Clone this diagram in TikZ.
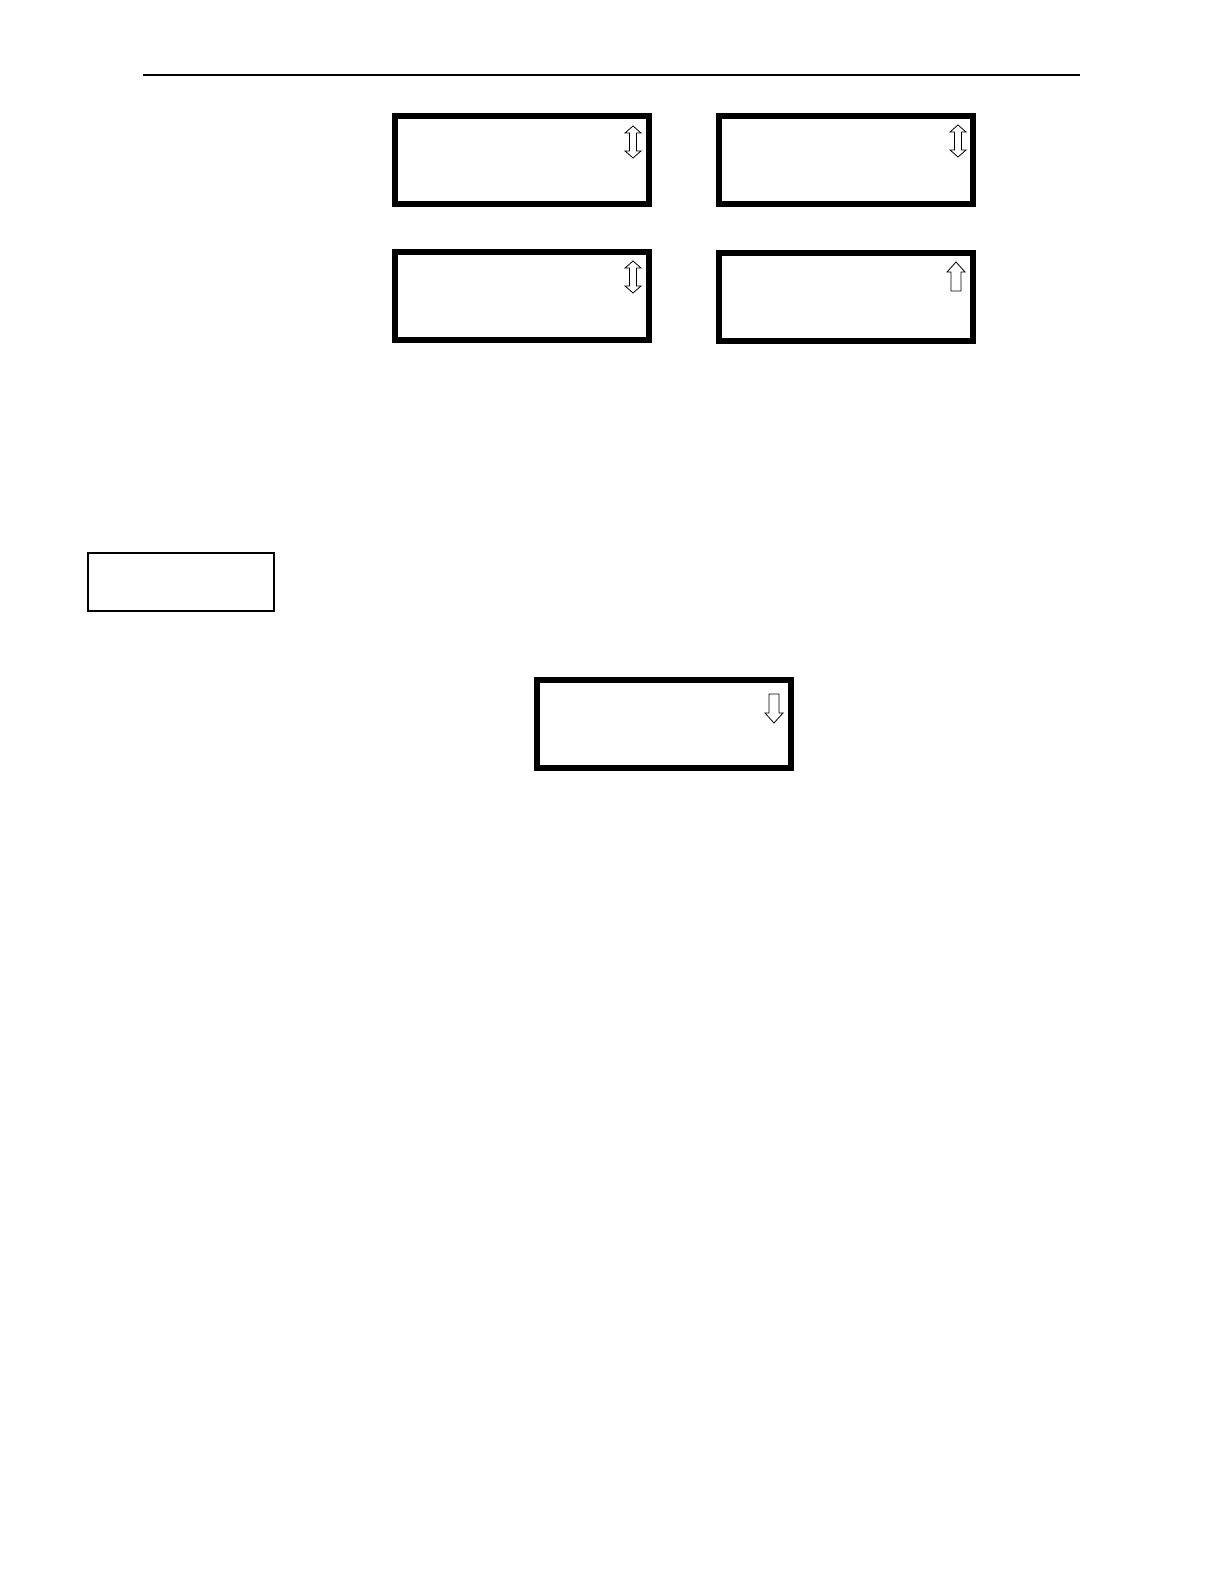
\documentclass[tikz,border=0pt]{standalone}
\usepackage{tikz}

\tikzset{
  screen/.style={shape=rectangle,draw=black,line width=2.65pt,minimum width=127pt,minimum height=44pt,inner sep=0pt},
  plainbox/.style={shape=rectangle,draw=black,line width=1pt,minimum width=93pt,minimum height=29pt,inner sep=0pt},
  updown/.pic={\draw[line width=0.4pt] (0,-16) -- (8,-9) -- (3.5,-9) -- (3.5,9) -- (8,9) -- (0,16) -- (-8,9) -- (-3.5,9) -- (-3.5,-9) -- (-8,-9) -- cycle;},
  uponly/.pic={\draw[line width=0.4pt] (0,-15) -- (9,-5) -- (5,-5) -- (5,14) -- (-5,14) -- (-5,-5) -- (-9,-5) -- cycle;},
  downonly/.pic={\draw[line width=0.4pt] (0,15) -- (9,5) -- (5,5) -- (5,-14) -- (-5,-14) -- (-5,5) -- (-9,5) -- cycle;}
}

\begin{document}
\begin{tikzpicture}[x=0.5pt,y=-0.5pt]
\useasboundingbox (0,0) rectangle (1224,1584);
\coordinate (L) at (143,75);
\coordinate (R) at (1080,75);
\draw[line width=0.75pt] (L) -- (R);
\node[screen] (A) at (522,160) {};
\node[screen] (B) at (846,160) {};
\node[screen] (C) at (522,296) {};
\node[screen] (D) at (846,297) {};
\node[plainbox] (E) at (181,582) {};
\node[screen] (F) at (664,724) {};
\pic at (633,142) {updown};
\pic at (958,141) {updown};
\pic at (633,277) {updown};
\pic at (956,277) {uponly};
\pic at (774,708) {downonly};
\end{tikzpicture}
\end{document}
